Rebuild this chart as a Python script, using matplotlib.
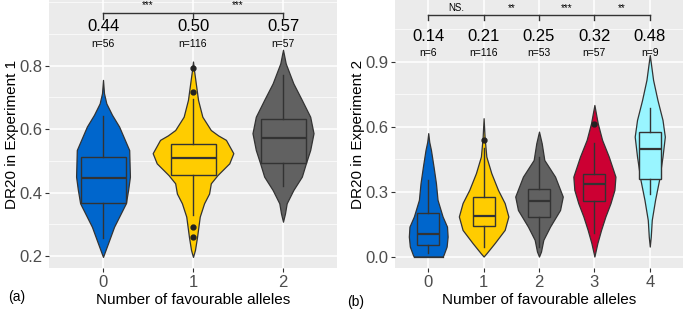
#%%
# imports
import numpy as np
import matplotlib
matplotlib.use('Agg')
import matplotlib.pyplot as plt
from matplotlib.ticker import MultipleLocator

plt.rcParams['font.family'] = ['Liberation Sans', 'DejaVu Sans']

#%%
# data

# experiment 1
e1_cats = ['0', '1', '2']
e1_means = ['0.44', '0.50', '0.57']
e1_n = ['n=56', 'n=116', 'n=57']
e1_stars = ['***', '***']
e1_colors = ['#0066CC', '#FFCC00', '#616161']
e1_q1 = [0.368, 0.455, 0.492]
e1_med = [0.447, 0.508, 0.573]
e1_q3 = [0.513, 0.552, 0.632]
e1_wlo = [0.256, 0.329, 0.421]
e1_whi = [0.641, 0.695, 0.770]
e1_out = [[], [0.794, 0.718, 0.292, 0.259], []]
# violin outlines: y levels and half widths (x units)
e1_vy = [
    [0.197, 0.24, 0.292, 0.366, 0.41, 0.45, 0.534, 0.608, 0.645, 0.681, 0.713, 0.755],
    [0.197, 0.219, 0.26, 0.324, 0.366, 0.397, 0.429, 0.455, 0.492, 0.524, 0.566, 0.58, 0.597, 0.639, 0.692, 0.786, 0.813],
    [0.308, 0.334, 0.366, 0.408, 0.45, 0.492, 0.534, 0.587, 0.639, 0.692, 0.744, 0.807, 0.85],
]
e1_vw = [
    [0.0, 0.056, 0.123, 0.254, 0.28, 0.299, 0.291, 0.179, 0.10, 0.037, 0.011, 0.0],
    [0.0, 0.022, 0.045, 0.075, 0.123, 0.179, 0.198, 0.272, 0.403, 0.448, 0.366, 0.28, 0.198, 0.104, 0.056, 0.011, 0.0],
    [0.0, 0.022, 0.041, 0.115, 0.209, 0.254, 0.302, 0.339, 0.302, 0.209, 0.115, 0.03, 0.0],
]

# experiment 2
e2_cats = ['0', '1', '2', '3', '4']
e2_means = ['0.14', '0.21', '0.25', '0.32', '0.48']
e2_n = ['n=6', 'n=116', 'n=53', 'n=57', 'n=9']
e2_stars = ['NS.', '**', '***', '**']
e2_colors = ['#0066CC', '#FFCC00', '#616161', '#CC0033', '#99F5FF']
e2_q1 = [0.051, 0.142, 0.182, 0.257, 0.359]
e2_med = [0.103, 0.189, 0.257, 0.334, 0.499]
e2_q3 = [0.203, 0.274, 0.311, 0.382, 0.574]
e2_wlo = [0.016, 0.046, 0.046, 0.108, 0.289]
e2_whi = [0.354, 0.500, 0.462, 0.523, 0.685]
e2_out = [[], [0.539], [], [0.61], []]
e2_vy = [
    [0.0, 0.008, 0.046, 0.092, 0.138, 0.185, 0.262, 0.339, 0.415, 0.4925, 0.53, 0.57],
    [0.0, 0.016, 0.062, 0.123, 0.185, 0.247, 0.308, 0.385, 0.462, 0.55, 0.639],
    [0.0, 0.023, 0.077, 0.138, 0.215, 0.277, 0.369, 0.446, 0.523, 0.577],
    [0.0, 0.062, 0.123, 0.185, 0.246, 0.308, 0.369, 0.462, 0.539, 0.616, 0.70],
    [0.046, 0.092, 0.169, 0.262, 0.354, 0.462, 0.554, 0.631, 0.723, 0.816, 0.931],
]
e2_vw = [
    [0.262, 0.277, 0.332, 0.35, 0.339, 0.259, 0.168, 0.139, 0.096, 0.049, 0.018, 0.0],
    [0.0, 0.054, 0.199, 0.38, 0.447, 0.38, 0.259, 0.139, 0.049, 0.018, 0.0],
    [0.0, 0.036, 0.078, 0.199, 0.38, 0.429, 0.29, 0.096, 0.049, 0.0],
    [0.0, 0.054, 0.121, 0.199, 0.29, 0.362, 0.38, 0.259, 0.139, 0.06, 0.0],
    [0.0, 0.018, 0.036, 0.096, 0.168, 0.23, 0.272, 0.23, 0.139, 0.06, 0.0],
]

#%%
# one panel
def panel(ax, cats, means, ns, stars, colors, q1, med, q3, wlo, whi, out,
          vy, vw, ylim, ystep, ymean, yn, ybr, ytick, ystar, boxw, ylabel):
    ax.set_facecolor('#EBEBEB')
    for s in ax.spines.values():
        s.set_visible(False)
    pos = np.arange(len(cats))

    for i in range(len(cats)):
        y = np.array(vy[i])
        w = np.array(vw[i])
        ax.fill_betweenx(y, pos[i] - w, pos[i] + w, facecolor=colors[i],
                         edgecolor='#333333', lw=0.9, zorder=2)
        if w[0] > 0:
            ax.plot([pos[i] - w[0], pos[i] + w[0]], [y[0], y[0]], color='#333333', lw=0.9, zorder=2)

    stats = []
    for i in range(len(cats)):
        stats.append(dict(q1=q1[i], med=med[i], q3=q3[i], whislo=wlo[i],
                          whishi=whi[i], fliers=out[i]))
    bp = ax.bxp(stats, positions=pos, widths=boxw, patch_artist=True,
                showcaps=False, manage_ticks=False,
                boxprops=dict(edgecolor='#333333', lw=1.0),
                medianprops=dict(color='#333333', lw=1.6),
                whiskerprops=dict(color='#333333', lw=1.0),
                flierprops=dict(marker='o', markerfacecolor='#222222',
                                markeredgecolor='#222222', markersize=3.5))
    for patch, c in zip(bp['boxes'], colors):
        patch.set_facecolor(c)
    for el in bp['boxes'] + bp['medians'] + bp['whiskers'] + bp['fliers']:
        el.set_zorder(3)

    # mean labels, counts, significance bracket
    for i in range(len(cats)):
        ax.text(pos[i], ymean, means[i], ha='center', va='center', fontsize=12, color='black')
        ax.text(pos[i], yn, ns[i], ha='center', va='center', fontsize=7.5, color='black')
    ax.plot([pos[0], pos[-1]], [ybr, ybr], color='#333333', lw=1.0, zorder=3)
    for i in range(len(cats)):
        ax.plot([pos[i], pos[i]], [ybr, ytick], color='#333333', lw=1.0, zorder=3)
    for i in range(len(stars)):
        ax.text(pos[i] + 0.5, ystar, stars[i], ha='center', va='center', fontsize=7, color='black')

    ax.set_xlim(-0.6, len(cats) - 0.4)
    ax.set_ylim(*ylim)
    ax.set_xticks(pos)
    ax.set_xticklabels(cats)
    ax.yaxis.set_major_locator(MultipleLocator(ystep))
    ax.yaxis.set_minor_locator(MultipleLocator(ystep / 2))
    ax.set_axisbelow(True)
    ax.grid(which='major', color='white', lw=1.1)
    ax.grid(which='minor', axis='y', color='white', lw=0.5)
    ax.tick_params(which='major', length=3, width=0.8, color='#333333',
                   labelsize=12, labelcolor='#4D4D4D', pad=2)
    ax.tick_params(which='minor', length=0)
    ax.set_xlabel('Number of favourable alleles', fontsize=11, labelpad=2)
    ax.set_ylabel(ylabel, fontsize=11, labelpad=0)


fig = plt.figure(figsize=(6.85, 3.12), dpi=100)
ax1 = fig.add_axes([49 / 685, 44 / 312, 288 / 685, 268 / 312])
ax2 = fig.add_axes([395 / 685, 44 / 312, 288 / 685, 268 / 312])

panel(ax1, e1_cats, e1_means, e1_n, e1_stars, e1_colors, e1_q1, e1_med, e1_q3,
      e1_wlo, e1_whi, e1_out, e1_vy, e1_vw, (0.162, 1.007), 0.2,
      0.922, 0.868, 0.965, 0.947, 0.99, 0.5, 'DR20 in Experiment 1')
ax1.yaxis.set_major_locator(plt.FixedLocator([0.2, 0.4, 0.6, 0.8]))

panel(ax2, e2_cats, e2_means, e2_n, e2_stars, e2_colors, e2_q1, e2_med, e2_q3,
      e2_wlo, e2_whi, e2_out, e2_vy, e2_vw, (-0.053, 1.185), 0.3,
      1.018, 0.939, 1.115, 1.092, 1.146, 0.4, 'DR20 in Experiment 2')
ax2.yaxis.set_major_locator(plt.FixedLocator([0.0, 0.3, 0.6, 0.9]))

fig.text(8 / 685, 1 - 297 / 312, '(a)', ha='left', va='center', fontsize=10)
fig.text(347 / 685, 1 - 302 / 312, '(b)', ha='left', va='center', fontsize=10)

fig.savefig('out.png', dpi=100, facecolor='white')
